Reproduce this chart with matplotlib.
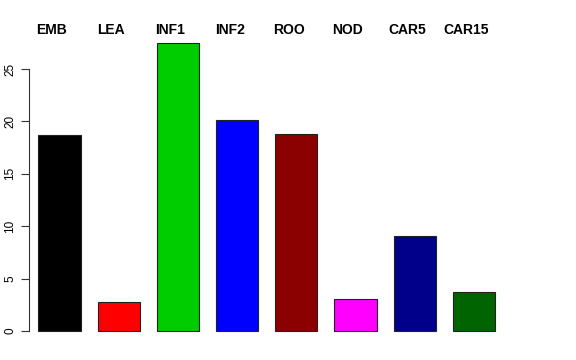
import matplotlib
matplotlib.use("Agg")
import matplotlib.pyplot as plt
import matplotlib.transforms as mtransforms
import numpy as np

categories = ["EMB", "LEA", "INF1", "INF2", "ROO", "NOD", "CAR5", "CAR15"]
values = [18.66, 2.81, 27.45, 20.12, 18.79, 3.06, 9.07, 3.76]
colors = ["#000000", "#FF0000", "#00CD00", "#0000FF", "#8B0000", "#FF00FF", "#00008B", "#006400"]
yticks = [0, 5, 10, 15, 20, 25]

plt.rcParams['font.family'] = ['Liberation Sans', 'DejaVu Sans']

W, H = 576, 360
fig = plt.figure(figsize=(W / 100, H / 100), dpi=100)
left_px, right_px, bottom_px, top_px = 29, 505, 342.5, 31.8
ax = fig.add_axes([left_px / W, 1 - bottom_px / H, (right_px - left_px) / W, (bottom_px - top_px) / H])

space, width = 0.4, 1.0
lefts = space + np.arange(len(values)) * (space + width)
centers = lefts + width / 2
ax.bar(centers, values, width=width, color=colors, edgecolor="#222222", linewidth=0.8)

ax.set_xlim(0.18, 0.18 + (right_px - left_px) / 42.3)
ax.set_ylim(-1.098, 28.548)

for s in ["top", "right", "bottom"]:
    ax.spines[s].set_visible(False)
ax.spines["left"].set_bounds(yticks[0], yticks[-1])
ax.spines["left"].set_color("#333333")
ax.set_xticks([])
ax.set_yticks(yticks)
ax.set_yticklabels([str(t) for t in yticks], rotation=90, va="center", fontsize=8.5)
ax.tick_params(axis="y", length=6, width=0.8, color="#333333", pad=3)

trans = mtransforms.blended_transform_factory(ax.transData, fig.transFigure)
for c, lab in zip(centers, categories):
    ax.text(c - 0.18, 1 - 30 / H, lab, transform=trans, ha="center", va="center",
            fontsize=10, fontweight="bold")

fig.savefig("out.png", dpi=100)
